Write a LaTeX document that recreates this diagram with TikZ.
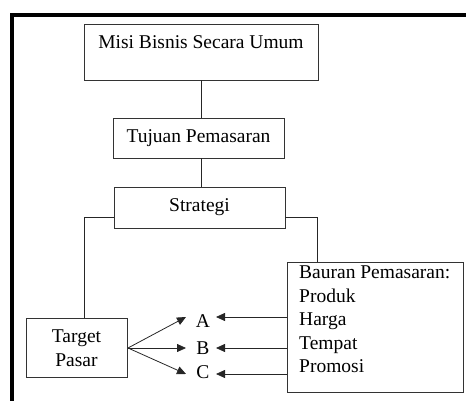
\documentclass[tikz,border=0pt]{standalone}
\usepackage{fontspec}
\setmainfont{Liberation Serif}
\usetikzlibrary{arrows.meta}
\tikzset{
  box/.style={draw=black!80, line width=0.8pt, inner sep=0pt},
  conn/.style={draw=black!85, line width=0.8pt},
  arr/.style={conn, -{Triangle[length=9pt,width=8pt]}},
  txt/.style={font=\fontsize{19.5}{23.5}\selectfont}
}
\begin{document}
\begin{tikzpicture}[x=1pt,y=-1pt]
\useasboundingbox (0,0) rectangle (466,401);
% frame
\draw[line width=4pt, line join=miter] (12,401) -- (12,15.3) -- (466,15.3);
% boxes
\node[box, txt, minimum width=234pt, text height=25pt, text depth=31pt] (misi) at (201,52) {Misi Bisnis Secara Umum};
\node[box, txt, minimum width=171pt, minimum height=40pt] (tujuan) at (198.5,138) {Tujuan Pemasaran};
\node[box, txt, minimum width=171pt, minimum height=41pt] (strategi) at (199.5,207.5) {Strategi};
\node[box, font=\fontsize{19.5}{24}\selectfont, minimum width=101pt, minimum height=59pt, align=center] (target) at (76.5,348) {Target\\Pasar};
\node[box, minimum width=176pt, minimum height=130pt] (bauran) at (375,327) {};
\node[txt, anchor=north west, inner sep=0pt, align=left] (bauranlist) at (299,266) {Bauran Pemasaran:\\Produk\\Harga\\Tempat\\Promosi};
% letters
\node[txt, anchor=base, inner sep=0pt] (A) at (203,327) {A};
\node[txt, anchor=base, inner sep=0pt] (B) at (203,354) {B};
\node[txt, anchor=base, inner sep=0pt] (C) at (203,378) {C};
% coordinates
\coordinate (sl) at (114,217);
\coordinate (sr) at (285,217);
\coordinate (lc) at (84,217);
\coordinate (rc) at (317,217);
\coordinate (tp) at (128,348);
\coordinate (ta) at (186,317);
\coordinate (tb) at (186,348);
\coordinate (tc) at (186,374);
\coordinate (ba) at (216,317);
\coordinate (bb) at (216,348);
\coordinate (bc) at (216,374);
% connectors
\draw[conn] (misi.south) -- (misi.south |- tujuan.north);
\draw[conn] (tujuan.south -| misi.south) -- (misi.south |- strategi.north);
\draw[conn] (sl) -- (lc) -- (lc |- target.north);
\draw[conn] (sr) -- (rc) -- (rc |- bauran.north);
\draw[arr] (tp) -- (ta);
\draw[arr] (tp) -- (tb);
\draw[arr] (tp) -- (tc);
\draw[arr] (bauran.west |- ba) -- (ba);
\draw[arr] (bauran.west |- bb) -- (bb);
\draw[arr] (bauran.west |- bc) -- (bc);
\end{tikzpicture}
\end{document}
